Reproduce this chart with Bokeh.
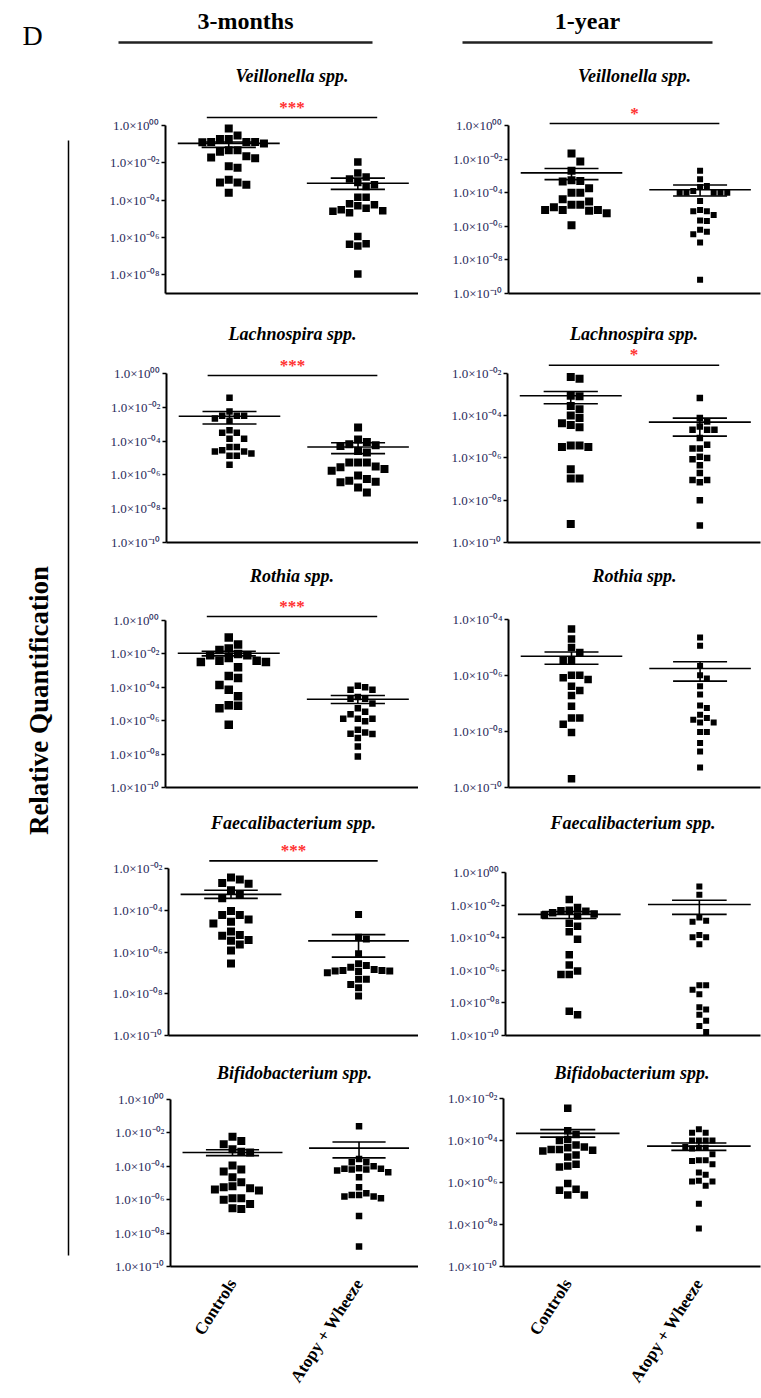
import numpy as np
from bokeh.plotting import figure
from bokeh.models import Range1d, FixedTicker, CustomJSTickFormatter, Label
from bokeh.layouts import row, column
from bokeh.embed import file_html
from bokeh.resources import INLINE

# ---------------- data (as log10 of relative quantification) ----------------
groups = ["Controls", "Atopy + Wheeze"]
periods = ["3-months", "1-year"]
taxa = ["Veillonella spp.", "Lachnospira spp.", "Rothia spp.",
        "Faecalibacterium spp.", "Bifidobacterium spp."]

veil_3m_ctrl = [-0.16, -0.72, -0.53, -0.72, -0.88, -0.88, -0.90, -0.96, -0.88, -1.33, -1.33,
                -1.41, -1.71, -1.76, -1.65, -2.27, -2.18, -3.05, -3.05, -2.91, -3.18, -3.60]
veil_3m_atopy = [-1.96, -2.76, -2.55, -3.05, -3.18, -2.87, -3.27, -3.85, -3.85, -4.24, -4.19,
                 -4.30, -4.43, -4.57, -4.67, -4.59, -4.52, -5.94, -6.36, -6.45, -6.33, -7.96]
veil_1y_ctrl = [-1.66, -2.14, -2.70, -3.30, -3.26, -3.34, -4.00, -3.74, -4.00, -4.39, -4.72,
                -4.52, -4.72, -5.03, -5.03, -5.22, -5.03, -4.87, -5.07, -5.94]
veil_1y_atopy = [-2.70, -3.20, -3.66, -3.60, -3.90, -4.00, -4.00, -4.00, -4.00, -4.00, -4.49,
                 -5.11, -5.03, -5.11, -5.32, -5.69, -5.65, -6.33, -6.20, -6.47, -6.96, -9.18]

lach_3m_ctrl = [-1.43, -2.50, -2.25, -2.50, -2.50, -2.66, -2.80, -3.36, -3.50, -3.50, -3.86,
                -3.86, -4.35, -4.35, -4.62, -4.74, -4.87, -4.87, -4.62, -4.54, -5.40]
lach_3m_atopy = [-3.20, -4.06, -3.90, -4.25, -4.29, -4.19, -4.68, -4.58, -5.26, -5.26, -5.26,
                 -5.65, -5.55, -5.75, -5.50, -6.24, -6.34, -6.04, -6.44, -6.40, -6.74, -7.04]
lach_1y_ctrl = [-2.26, -2.18, -3.06, -3.09, -3.55, -3.70, -4.12, -4.00, -4.44, -4.55, -4.36,
                -5.41, -5.48, -5.48, -5.41, -6.54, -6.98, -6.98, -9.12]
lach_1y_atopy = [-3.17, -4.12, -4.52, -4.28, -4.67, -4.67, -4.67, -5.06, -5.38, -5.56, -5.56,
                 -5.95, -6.06, -6.00, -6.35, -6.72, -7.04, -7.15, -7.04, -8.00, -9.20]

roth_3m_ctrl = [-1.02, -1.44, -1.76, -1.67, -2.41, -2.49, -2.49, -2.41, -2.25, -2.08, -2.00,
                -2.08, -2.80, -3.44, -3.32, -3.86, -4.14, -4.54, -5.11, -5.26, -5.07, -6.24]
roth_3m_atopy = [-4.00, -4.14, -4.14, -3.90, -4.68, -4.58, -4.68, -5.26, -4.97, -5.61, -5.46,
                 -5.88, -6.04, -5.88, -5.88, -6.70, -6.80, -6.78, -6.54, -7.04, -7.54, -8.15]
roth_1y_ctrl = [-4.34, -4.70, -5.00, -5.18, -5.46, -5.46, -5.99, -6.08, -6.14, -5.99, -6.38,
                -6.54, -6.71, -7.10, -7.52, -7.52, -7.74, -8.04, -9.69]
roth_1y_atopy = [-4.64, -4.94, -5.66, -5.99, -6.11, -6.38, -6.68, -7.07, -7.16, -7.40, -7.52,
                 -7.58, -7.68, -7.68, -8.02, -8.02, -8.41, -8.71, -9.29]

faec_3m_ctrl = [-2.42, -2.52, -2.68, -2.72, -3.03, -3.23, -3.42, -4.03, -4.22, -4.22, -4.43,
                -4.54, -4.63, -5.01, -5.18, -5.21, -5.42, -5.45, -5.64, -5.92, -6.55]
faec_3m_atopy = [-4.19, -5.29, -5.37, -6.08, -6.64, -6.56, -6.72, -6.83, -6.88, -6.93, -6.99,
                 -6.91, -6.91, -6.88, -7.30, -7.30, -7.55, -7.71, -8.11]
faec_1y_ctrl = [-1.66, -2.35, -2.47, -2.37, -2.31, -2.14, -2.61, -2.67, -2.55, -3.12, -3.29,
                -3.63, -4.10, -5.04, -5.68, -6.25, -6.25, -6.04, -8.72, -8.51]
faec_1y_atopy = [-0.86, -1.36, -2.96, -3.02, -2.76, -3.98, -3.84, -3.98, -4.40, -6.92, -6.92,
                 -7.20, -7.47, -8.41, -8.26, -8.72, -9.09, -9.41, -9.79]

bifi_3m_ctrl = [-2.24, -2.49, -2.69, -3.14, -3.18, -2.98, -4.20, -3.96, -4.32, -4.66, -4.96,
                -5.20, -5.40, -5.46, -5.26, -5.32, -5.92, -6.26, -6.56, -6.52, -6.00, -5.92]
bifi_3m_atopy = [-1.61, -3.76, -4.00, -3.76, -3.57, -4.16, -4.26, -4.36, -4.16, -4.20, -4.20,
                 -4.12, -4.66, -5.26, -5.72, -5.82, -5.92, -5.82, -5.72, -5.62, -6.98, -8.80]
bifi_1y_ctrl = [-2.46, -3.71, -3.54, -3.95, -4.00, -4.31, -4.50, -4.35, -4.43, -4.47, -4.43,
                -4.22, -4.79, -4.69, -5.21, -5.26, -5.13, -6.05, -6.32, -6.59, -6.59, -6.37]
bifi_1y_atopy = [-3.46, -3.63, -3.63, -4.00, -4.00, -4.00, -4.00, -4.38, -4.35, -4.31, -4.35,
                 -4.66, -4.94, -5.13, -4.98, -4.94, -5.52, -5.63, -5.95, -6.16, -5.92, -5.95,
                 -7.01, -8.19]

# mean and SEM bounds (log10), one entry per taxon
mean_3m_ctrl = [-0.96, -2.53, -1.96, -3.23, -3.18]
semhi_3m_ctrl = [-0.88, -2.25, -1.84, -3.03, -3.02]
semlo_3m_ctrl = [-1.17, -2.99, -2.12, -3.42, -3.37]
mean_3m_atopy = [-3.09, -4.35, -4.72, -5.46, -2.92]
semhi_3m_atopy = [-2.82, -4.10, -4.49, -5.16, -2.55]
semlo_3m_atopy = [-3.42, -4.74, -4.97, -6.24, -3.50]
mean_1y_ctrl = [-2.82, -3.06, -5.31, -2.57, -3.66]
semhi_1y_ctrl = [-2.56, -2.86, -5.16, -2.40, -3.48]
semlo_1y_ctrl = [-3.22, -3.44, -5.60, -2.82, -3.84]
mean_1y_atopy = [-3.82, -4.31, -5.75, -1.96, -4.27]
semhi_1y_atopy = [-3.54, -4.12, -5.51, -1.70, -4.12]
semlo_1y_atopy = [-4.20, -4.97, -6.20, -2.57, -4.47]

sig_3m = ["***", "***", "***", "***", ""]
sig_1y = ["*", "*", "", "", ""]

points = {
    "3m": [(veil_3m_ctrl, veil_3m_atopy), (lach_3m_ctrl, lach_3m_atopy), (roth_3m_ctrl, roth_3m_atopy),
           (faec_3m_ctrl, faec_3m_atopy), (bifi_3m_ctrl, bifi_3m_atopy)],
    "1y": [(veil_1y_ctrl, veil_1y_atopy), (lach_1y_ctrl, lach_1y_atopy), (roth_1y_ctrl, roth_1y_atopy),
           (faec_1y_ctrl, faec_1y_atopy), (bifi_1y_ctrl, bifi_1y_atopy)],
}
stats = {
    "3m": [(mean_3m_ctrl, semhi_3m_ctrl, semlo_3m_ctrl), (mean_3m_atopy, semhi_3m_atopy, semlo_3m_atopy)],
    "1y": [(mean_1y_ctrl, semhi_1y_ctrl, semlo_1y_ctrl), (mean_1y_atopy, semhi_1y_atopy, semlo_1y_atopy)],
}
sigs = {"3m": sig_3m, "1y": sig_1y}

# ---------------- layout / style ----------------
W, H = 761, 1398
HEADER_H = 55
SIDE_W = 90
LEFT_W = 328
RIGHT_W = W - SIDE_W - LEFT_W
ROWS = [(55, 305), (305, 555), (555, 800), (800, 1050), (1050, 1398)]
TITLE_Y = [75, 333, 575, 822, 1072]
# (frame_left, top_exp, top_px, bottom_exp, bottom_px, sig_px) in page pixels
GEO = {
    "3m": [(165, 0, 125, -9, 293, 117), (166, 0, 373, -10, 542, 375), (165, 0, 620, -10, 787, 616),
           (168, -2, 869, -10, 1038, 861), (170, 0, 1099, -10, 1267, None)],
    "1y": [(508, 0, 125, -10, 293, 123), (507, -2, 373, -10, 543, 365), (508, -4, 619, -10, 787, None),
           (505, 0, 872, -10, 1035, None), (503, -2, 1098, -10, 1266, None)],
}
FRAME_RIGHT = {"3m": 418, "1y": 760}
FIG_LEFT = {"3m": SIDE_W, "1y": SIDE_W + LEFT_W}
FIG_RIGHT = {"3m": SIDE_W + LEFT_W, "1y": W}
MSIZE = {
    "3m": [(8, 7.5), (6.5, 8), (8.5, 6.5), (8, 7), (8, 6.5)],
    "1y": [(8, 6), (8, 6.5), (7.5, 6), (7.5, 6), (7.5, 6)],
}
X0, X1 = 0.51, 2.47
SERIF = "Liberation Serif"
TICK_COLOR = "#2a2a5a"

TICK_JS = """
const e = Math.round(Math.log10(tick));
const m = {"0":"\\u2070","1":"\\u00b9","2":"\\u00b2","3":"\\u00b3","4":"\\u2074","5":"\\u2075",
           "6":"\\u2076","7":"\\u2077","8":"\\u2078","9":"\\u2079","-":"\\u207b"};
const s = (e < 0 ? "-" : "") + String(Math.abs(e)).padStart(2, "0");
let out = "";
for (const c of s) { out += m[c]; }
return "1.0\\u00d710" + out;
"""
XLAB_JS = """
return tick < 1.5 ? "Controls" : "Atopy + Wheeze";
"""


def swarm(logvals, ppd, ppu, size):
    """Beeswarm x offsets (data units) so that square markers do not overlap."""
    vals = np.asarray(logvals, dtype=float)
    order = np.argsort(-vals, kind="stable")
    s = size + 0.8
    placed = []
    offs = np.zeros(len(vals))
    for i in order:
        y = vals[i] * ppd
        conf = [(px, py) for px, py in placed if abs(py - y) < s]
        cands = [0.0]
        for px, _ in conf:
            cands += [px + s, px - s]
        cands.sort(key=lambda c: (abs(c), -c))
        chosen = 0.0
        for c in cands:
            if all(abs(c - px) >= s - 1e-6 for px, _ in conf):
                chosen = c
                break
        placed.append((chosen, y))
        offs[i] = chosen / ppu
    return offs


def blank(p):
    p.xgrid.grid_line_color = None
    p.ygrid.grid_line_color = None
    p.outline_line_color = None
    p.background_fill_color = "white"
    p.border_fill_color = "white"


def make_panel(period, ri):
    fl, top_exp, top_px, bot_exp, bot_px, sig_px = GEO[period][ri]
    fr = FRAME_RIGHT[period]
    row_top, row_bot = ROWS[ri]
    ppd = (bot_px - top_px) / (top_exp - bot_exp)
    frame_top = TITLE_Y[ri] - 10
    y_end_exp = top_exp + (top_px - frame_top) / ppd
    ppu = (fr - fl) / (X1 - X0)
    bottom_row = ri == len(ROWS) - 1

    p = figure(width=FIG_RIGHT[period] - FIG_LEFT[period], height=row_bot - row_top,
               x_range=Range1d(X0, X1), y_range=Range1d(10.0 ** bot_exp, 10.0 ** y_end_exp),
               y_axis_type="log", output_backend="svg", toolbar_location=None, title=None,
               min_border_left=fl - FIG_LEFT[period], min_border_right=FIG_RIGHT[period] - fr,
               min_border_top=frame_top - row_top, min_border_bottom=row_bot - bot_px)
    blank(p)

    yax = p.yaxis[0]
    yax.ticker = FixedTicker(ticks=[10.0 ** e for e in range(top_exp, bot_exp - 1, -2)])
    yax.formatter = CustomJSTickFormatter(code=TICK_JS)
    yax.bounds = (10.0 ** bot_exp, 10.0 ** top_exp)
    yax.axis_line_width = 2
    yax.axis_line_color = "black"
    yax.major_tick_line_width = 1.5
    yax.major_tick_line_color = "black"
    yax.major_tick_out = 4
    yax.major_tick_in = 0
    yax.minor_tick_line_color = None
    yax.major_label_text_font = SERIF
    yax.major_label_text_font_size = "13px"
    yax.major_label_text_color = TICK_COLOR
    yax.major_label_standoff = 2

    xax = p.xaxis[0]
    xax.axis_line_width = 2
    xax.axis_line_color = "black"
    xax.major_tick_line_color = None
    xax.minor_tick_line_color = None
    if bottom_row:
        xax.ticker = FixedTicker(ticks=[1, 2])
        xax.formatter = CustomJSTickFormatter(code=XLAB_JS)
        xax.major_label_orientation = 1.0
        xax.major_label_text_font = SERIF
        xax.major_label_text_font_style = "bold"
        xax.major_label_text_font_size = "17px"
        xax.major_label_text_color = "black"
        xax.major_label_standoff = 8
    else:
        xax.ticker = FixedTicker(ticks=[])
        xax.major_tick_out = 0
        xax.major_label_standoff = 0

    # points
    for gi, vals in enumerate(points[period][ri]):
        size = MSIZE[period][ri][gi]
        offs = swarm(vals, ppd, ppu, size)
        xs = (gi + 1) + offs
        ys = [10.0 ** v for v in vals]
        p.scatter(x=list(xs), y=ys, marker="square", size=size, color="black", line_width=0)

    # mean +/- SEM
    for gi in range(2):
        mean_l, hi_l, lo_l = stats[period][gi]
        c = gi + 1
        m, hi, lo = 10.0 ** mean_l[ri], 10.0 ** hi_l[ri], 10.0 ** lo_l[ri]
        p.segment(x0=[c - 0.395], x1=[c + 0.395], y0=[m], y1=[m], line_color="black", line_width=1.6)
        p.segment(x0=[c], x1=[c], y0=[lo], y1=[hi], line_color="black", line_width=1.6)
        p.segment(x0=[c - 0.21, c - 0.21], x1=[c + 0.21, c + 0.21], y0=[lo, hi], y1=[lo, hi],
                  line_color="black", line_width=1.6)

    # significance
    sig = sigs[period][ri]
    if sig and sig_px is not None:
        ys = 10.0 ** (top_exp + (top_px - sig_px) / ppd)
        p.segment(x0=[0.83], x1=[2.15], y0=[ys], y1=[ys], line_color="black", line_width=1.6)
        p.add_layout(Label(x=1.49, y=ys, text=sig, text_color="#ff3030", text_font=SERIF,
                           text_font_size="17px", text_font_style="bold", text_align="center",
                           text_baseline="bottom", y_offset=1))

    # panel title
    p.add_layout(Label(x=(X0 + X1) / 2, y=10.0 ** y_end_exp, text=taxa[ri], text_font=SERIF,
                       text_font_size="18px", text_font_style="bold italic", text_color="black",
                       text_align="center", text_baseline="top"))
    return p


# header
header = figure(width=W, height=HEADER_H, x_range=Range1d(0, W), y_range=Range1d(HEADER_H, 0),
                output_backend="svg", toolbar_location=None, title=None,
                x_axis_location=None, y_axis_location=None, min_border=0)
blank(header)
header.add_layout(Label(x=22, y=35, text="D", text_font=SERIF, text_font_size="28px",
                        text_align="left", text_baseline="middle", text_color="black"))
for name, cx, x0, x1 in [(periods[0], 245, 118, 372), (periods[1], 587, 462, 712)]:
    header.add_layout(Label(x=cx, y=20, text=name, text_font=SERIF, text_font_size="24px",
                            text_font_style="bold", text_align="center", text_baseline="middle",
                            text_color="black"))
    header.segment(x0=[x0], x1=[x1], y0=[42], y1=[42], line_color="#222222", line_width=2.5)

# side label
SIDE_H = H - HEADER_H
side = figure(width=SIDE_W, height=SIDE_H, x_range=Range1d(0, SIDE_W), y_range=Range1d(SIDE_H, 0),
              output_backend="svg", toolbar_location=None, title=None,
              x_axis_location=None, y_axis_location=None, min_border=0)
blank(side)
side.segment(x0=[68], x1=[68], y0=[140 - HEADER_H], y1=[1255 - HEADER_H], line_color="black", line_width=1.5)
side.add_layout(Label(x=38, y=700 - HEADER_H, text="Relative Quantification", angle=np.pi / 2,
                      text_font=SERIF, text_font_size="27px", text_font_style="bold",
                      text_align="center", text_baseline="middle", text_color="black"))

rows = [row(make_panel("3m", ri), make_panel("1y", ri), spacing=0) for ri in range(len(ROWS))]
grid = column(*rows, spacing=0)
layout = column(header, row(side, grid, spacing=0), spacing=0)

open("out.html", "w").write(file_html(layout, INLINE))
